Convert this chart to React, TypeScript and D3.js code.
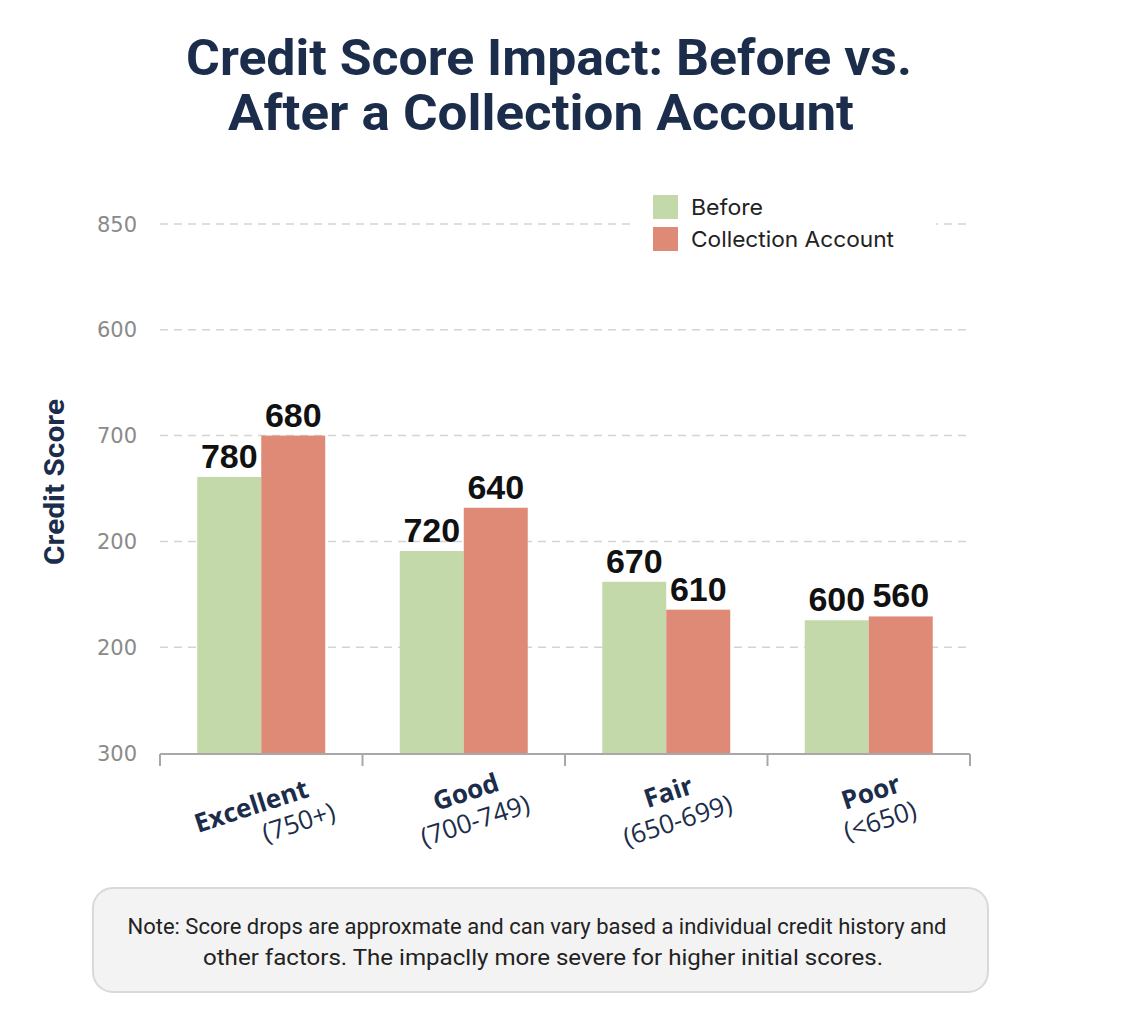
import React from "react";
import * as d3 from "d3";

const categories = ["Excellent", "Good", "Fair", "Poor"];
const categoryRanges = ["(750+)", "(700-749)", "(650-699)", "(<650)"];
// bar heights as drawn on the chart's axis
const beforeValues = [587, 510, 478, 438];
const collectionValues = [630, 555, 449, 442];
// numbers printed above the bars
const beforeLabels = ["780", "720", "670", "600"];
const collectionLabels = ["680", "640", "610", "560"];
const yTickValues = [300, 410, 520, 630, 740, 850];
const yTickLabels = ["300", "200", "200", "700", "600", "850"];
const seriesNames = ["Before", "Collection Account"];

const NAVY = "#1b2d4b";
const GREEN = "#c4d9aa";
const SALMON = "#df8a76";

export default function App() {
  const W = 1130;
  const H = 1026;
  const x = d3.scaleBand<string>().domain(categories).range([160, 970]).paddingInner(0).paddingOuter(0);
  const xSub = d3
    .scaleBand<string>()
    .domain(["before", "collection"])
    .range([0, x.bandwidth()])
    .paddingInner(0)
    .paddingOuter(0.582);
  const y = d3.scaleLinear().domain([300, 850]).range([753, 224]);
  const base = y(300);

  const series = [
    { key: "before", values: beforeValues, labels: beforeLabels, color: GREEN },
    { key: "collection", values: collectionValues, labels: collectionLabels, color: SALMON },
  ];

  const tickXs = [...categories.map((c) => x(c) as number), 970];
  const legendLens = [72, 203];

  return (
    <svg width={W} height={H} style={{ position: "absolute", left: 0, top: 0, background: "#fff" }}>
      <rect x={0} y={0} width={W} height={H} fill="#fff" />
      {/* Title */}
      <g fill={NAVY} fontFamily="Roboto, sans-serif" fontWeight={700} fontSize={50} textAnchor="middle">
        <text x={549} y={75} textLength={726} lengthAdjust="spacingAndGlyphs">
          Credit Score Impact: Before vs.
        </text>
        <text x={541} y={130} textLength={626} lengthAdjust="spacingAndGlyphs">
          After a Collection Account
        </text>
      </g>

      {/* grid */}
      {yTickValues.slice(1).map((v) => (
        <line
          key={v}
          x1={160}
          x2={966}
          y1={y(v)}
          y2={y(v)}
          stroke="#d4d4d4"
          strokeWidth={1.5}
          strokeDasharray="8 6"
        />
      ))}

      {/* y tick labels */}
      {yTickValues.map((v, i) => (
        <text
          key={v}
          x={137}
          y={y(v)}
          dy="0.36em"
          textAnchor="end"
          fontFamily="'DejaVu Sans', sans-serif"
          fontSize={21}
          fill="#8a8a8a"
        >
          {yTickLabels[i]}
        </text>
      ))}

      {/* y axis title */}
      <text
        transform={`translate(64, 482) rotate(-90)`}
        textAnchor="middle"
        fontFamily="Roboto, sans-serif"
        fontWeight={700}
        fontSize={27}
        fill={NAVY}
        textLength={166}
        lengthAdjust="spacingAndGlyphs"
      >
        Credit Score
      </text>

      {/* bars */}
      {series.map((s) =>
        categories.map((c, i) => {
          const bx = (x(c) as number) + (xSub(s.key) as number);
          const top = y(s.values[i]);
          return (
            <g key={s.key + c}>
              <rect x={bx} y={top} width={xSub.bandwidth()} height={base - top} fill={s.color} />
              <text
                x={bx + xSub.bandwidth() / 2}
                y={top - 9}
                textAnchor="middle"
                fontFamily="'Liberation Sans', Arial, sans-serif"
                fontWeight={700}
                fontSize={34}
                fill="#111"
              >
                {s.labels[i]}
              </text>
            </g>
          );
        })
      )}

      {/* x axis */}
      <line x1={160} x2={970} y1={754} y2={754} stroke="#a8a8a8" strokeWidth={2} />
      {tickXs.map((tx, i) => (
        <line key={i} x1={tx} x2={tx} y1={754} y2={766} stroke="#a8a8a8" strokeWidth={2} />
      ))}

      {/* x labels */}
      {categories.map((c, i) => {
        const cx = (x(c) as number) + x.bandwidth() / 2;
        const special = i === 0;
        const l1dx = special ? -10 : 2;
        const l2dx = special ? 30 : 2;
        const ly = special ? 806 : 792;
        return (
          <g key={c} transform={`translate(${cx}, 0)`} fill={NAVY} fontFamily="'Open Sans', sans-serif" fontSize={26}>
            <text
              transform={`translate(${l1dx}, ${ly}) rotate(-18)`}
              textAnchor="middle"
              dy="0.35em"
              fontWeight={700}
            >
              {c}
            </text>
            <text
              transform={`translate(${l1dx}, ${ly}) rotate(-18) translate(${l2dx - l1dx}, 30)`}
              textAnchor="middle"
              dy="0.35em"
              fontWeight={500}
            >
              {categoryRanges[i]}
            </text>
          </g>
        );
      })}

      {/* legend */}
      <rect x={636} y={188} width={300} height={72} fill="#fff" />
      {seriesNames.map((n, i) => (
        <g key={n} transform={`translate(653, ${195 + i * 32})`}>
          <rect width={25} height={24} fill={i === 0 ? GREEN : SALMON} />
          <text
            x={38}
            y={12}
            dy="0.36em"
            fontFamily="Inter, sans-serif"
            fontSize={22}
            fill="#222"
            textLength={legendLens[i]}
            lengthAdjust="spacingAndGlyphs"
          >
            {n}
          </text>
        </g>
      ))}

      {/* note */}
      <rect x={93} y={888} width={895} height={104} rx={20} fill="#f3f3f3" stroke="#d9d9d9" strokeWidth={2} />
      <g fontFamily="Roboto, sans-serif" fontSize={22} fill="#222" textAnchor="middle">
        <text x={537} y={934} textLength={819} lengthAdjust="spacingAndGlyphs">
          Note: Score drops are approxmate and can vary based a individual credit history and
        </text>
        <text x={543} y={965} textLength={680} lengthAdjust="spacingAndGlyphs">
          other factors. The impaclly more severe for higher initial scores.
        </text>
      </g>
    </svg>
  );
}
